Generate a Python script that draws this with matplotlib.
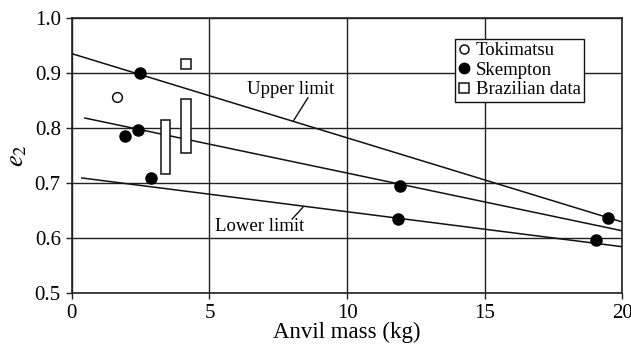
import matplotlib
matplotlib.use('Agg')
import matplotlib.pyplot as plt
from matplotlib.patches import Rectangle
from matplotlib.lines import Line2D

plt.rcParams['font.family'] = ['Liberation Serif', 'DejaVu Serif']
plt.rcParams['mathtext.fontset'] = 'stix'

# Daten
tokimatsu_x = [1.64]
tokimatsu_y = [0.856]

skempton_x = [2.47, 1.93, 2.40, 2.87, 11.93, 11.85, 19.5, 19.05]
skempton_y = [0.900, 0.785, 0.796, 0.709, 0.695, 0.635, 0.637, 0.597]

brazil_x = [4.15]
brazil_y = [0.916]
# Bereiche (x links, x rechts, y unten, y oben)
brazil_box_x0 = [3.22, 3.96]
brazil_box_x1 = [3.56, 4.33]
brazil_box_y0 = [0.716, 0.755]
brazil_box_y1 = [0.814, 0.853]

upper_x = [0.0, 20.0]
upper_y = [0.935, 0.629]
middle_x = [0.47, 20.0]
middle_y = [0.818, 0.613]
lower_x = [0.36, 20.0]
lower_y = [0.709, 0.584]

fig, ax = plt.subplots(figsize=(6.31, 3.45), dpi=100)
fig.subplots_adjust(left=0.114, right=0.986, top=0.948, bottom=0.151)

ax.set_xlim(0, 20)
ax.set_ylim(0.5, 1.0)
ax.set_xticks([0, 5, 10, 15, 20])
ax.set_yticks([0.5, 0.6, 0.7, 0.8, 0.9, 1.0])
ax.set_yticklabels([f'{v:.1f}' for v in [0.5, 0.6, 0.7, 0.8, 0.9, 1.0]])
ax.grid(True, color='#222222', linewidth=1.0)
ax.set_axisbelow(True)
ax.tick_params(labelsize=15, length=4, width=1.0, color='#222222', pad=4)
for s in ax.spines.values():
    s.set_linewidth(1.2)
    s.set_color('#222222')

lc = '#111111'
ax.plot(upper_x, upper_y, color=lc, lw=1.1)
ax.plot(middle_x, middle_y, color=lc, lw=1.1)
ax.plot(lower_x, lower_y, color=lc, lw=1.1)

for x0, x1, y0, y1 in zip(brazil_box_x0, brazil_box_x1, brazil_box_y0, brazil_box_y1):
    ax.add_patch(Rectangle((x0, y0), x1 - x0, y1 - y0, facecolor='white',
                           edgecolor=lc, lw=1.1, zorder=3))

ax.plot(tokimatsu_x, tokimatsu_y, 'o', ms=7, mfc='white', mec=lc, mew=1.1, zorder=4)
ax.plot(skempton_x, skempton_y, 'o', ms=8, mfc='black', mec='black', zorder=4)
ax.plot(brazil_x, brazil_y, 's', ms=7, mfc='white', mec=lc, mew=1.1, zorder=4)

ax.text(7.95, 0.855, 'Upper limit', fontsize=13.5, ha='center', va='bottom')
ax.annotate('', xy=(8.04, 0.812), xytext=(8.58, 0.855),
            arrowprops=dict(arrowstyle='-', color=lc, lw=1.0, shrinkA=0, shrinkB=0))
ax.text(6.84, 0.620, 'Lower limit', fontsize=13.5, ha='center', va='center')
ax.annotate('', xy=(8.4, 0.656), xytext=(8.0, 0.634),
            arrowprops=dict(arrowstyle='-', color=lc, lw=1.0, shrinkA=0, shrinkB=0))

ax.set_xlabel('Anvil mass (kg)', fontsize=16.5, labelpad=-1)
ax.set_ylabel('$e_2$', fontsize=19, labelpad=4)

handles = [
    Line2D([], [], marker='o', ls='', ms=6.5, mfc='white', mec=lc, mew=1.1),
    Line2D([], [], marker='o', ls='', ms=7.5, mfc='black', mec='black'),
    Line2D([], [], marker='s', ls='', ms=6.5, mfc='white', mec=lc, mew=1.1),
]
leg = ax.legend(handles, ['Tokimatsu', 'Skempton', 'Brazilian data'],
                loc='upper left', bbox_to_anchor=(0.696, 0.925), fontsize=13.5,
                frameon=True, fancybox=False, framealpha=1, edgecolor=lc,
                handlelength=0.6, handletextpad=0.3, borderpad=0.2,
                labelspacing=0.12, borderaxespad=0)
leg.get_frame().set_linewidth(1.0)

fig.savefig('out.png', dpi=100)
